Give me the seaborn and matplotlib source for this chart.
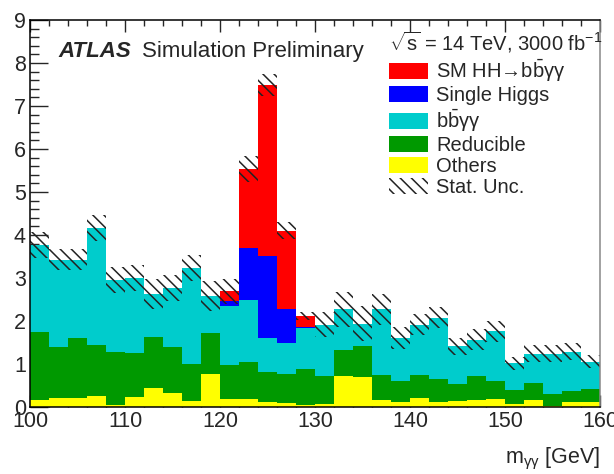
import numpy as np
import pandas as pd
import matplotlib
matplotlib.use('Agg')
import matplotlib.pyplot as plt
import seaborn as sns
from matplotlib.patches import Patch
from matplotlib.ticker import MultipleLocator

# bin edges of m_yy (GeV), 2 GeV bins
edges = np.arange(100, 162, 2)
centers = edges[:-1] + 1

# per-process yields per bin
others = [0.17, 0.22, 0.22, 0.25, 0.06, 0.24, 0.45, 0.33, 0.14, 0.78,
          0.18, 0.20, 0.11, 0.09, 0.06, 0.08, 0.72, 0.71, 0.17, 0.12,
          0.21, 0.11, 0.14, 0.16, 0.20, 0.08, 0.17, 0.02, 0.11, 0.11]
reducible = [1.57, 1.18, 1.38, 1.20, 1.23, 1.01, 1.19, 1.07, 0.87, 0.95,
             0.80, 0.86, 0.70, 0.69, 0.82, 0.64, 0.61, 0.70, 0.58, 0.48,
             0.54, 0.54, 0.39, 0.57, 0.40, 0.33, 0.39, 0.28, 0.27, 0.31]
bbyy = [2.02, 2.03, 1.83, 2.72, 1.67, 1.75, 0.99, 1.37, 2.23, 0.86,
        1.36, 1.43, 0.80, 0.71, 0.95, 1.20, 0.94, 0.53, 1.52, 1.01,
        1.17, 1.43, 0.88, 0.84, 1.16, 0.61, 0.68, 0.94, 0.91, 0.64]
single_higgs = [0, 0, 0, 0, 0, 0, 0, 0, 0, 0,
                0.13, 1.22, 1.90, 0.78, 0.03, 0, 0, 0, 0, 0,
                0, 0, 0, 0, 0, 0, 0, 0, 0, 0]
hh = [0, 0, 0, 0, 0, 0, 0, 0, 0, 0,
      0.22, 1.82, 3.98, 1.83, 0.26, 0, 0, 0, 0, 0,
      0, 0, 0, 0, 0, 0, 0, 0, 0, 0]
stat_unc = [0.30, 0.25, 0.25, 0.30, 0.30, 0.30, 0.35, 0.30, 0.30, 0.35,
            0.30, 0.30, 0.25, 0.20, 0.10, 0.30, 0.40, 0.40, 0.35, 0.25,
            0.25, 0.25, 0.20, 0.25, 0.25, 0.15, 0.20, 0.20, 0.20, 0.15]

labels = [r'SM HH→b$\bar{b}$γγ', 'Single Higgs',
          r'b$\bar{b}$γγ', 'Reducible', 'Others']
colors = ['#ff0000', '#0000ff', '#00cccc', '#009900', '#ffff00']

rows = []
for name, vals in zip(labels, [hh, single_higgs, bbyy, reducible, others]):
    for c, v in zip(centers, vals):
        rows.append((c, v, name))
df = pd.DataFrame(rows, columns=['mass', 'weight', 'process'])

sns.set_style('ticks')
plt.rcParams['font.family'] = ['Liberation Sans', 'DejaVu Sans']
plt.rcParams['mathtext.fontset'] = 'custom'
plt.rcParams['mathtext.rm'] = 'Liberation Sans'
plt.rcParams['mathtext.it'] = 'Liberation Sans:italic'
plt.rcParams['mathtext.bf'] = 'Liberation Sans:bold'
plt.rcParams['mathtext.default'] = 'rm'
plt.rcParams['hatch.color'] = 'black'
plt.rcParams['hatch.linewidth'] = 1.1

fig = plt.figure(figsize=(6.14, 4.74), dpi=100)
ax = fig.add_axes([0.049, 0.141, 0.928, 0.817])

sns.histplot(data=df, x='mass', weights='weight', hue='process',
             hue_order=labels, palette=colors, multiple='stack',
             binwidth=2, binrange=(100, 160), element='step', fill=True,
             alpha=1, linewidth=0, legend=False, ax=ax)

# statistical uncertainty band
total = np.sum([hh, single_higgs, bbyy, reducible, others], axis=0)
unc = np.array(stat_unc)
ax.bar(edges[:-1], 2 * unc, bottom=total - unc, width=2, align='edge',
       fill=False, hatch='\\\\\\', edgecolor='#222222', linewidth=0)

ax.set_xlim(100, 160)
ax.set_ylim(0, 9)
ax.xaxis.set_major_locator(MultipleLocator(10))
ax.xaxis.set_minor_locator(MultipleLocator(2))
ax.yaxis.set_major_locator(MultipleLocator(1))
ax.yaxis.set_minor_locator(MultipleLocator(0.2))
ax.tick_params(axis='x', which='major', direction='in', length=8.5, width=1,
               top=True, labelsize=15.5, pad=3)
ax.tick_params(axis='x', which='minor', direction='in', length=4.3, width=1, top=True)
ax.tick_params(axis='y', which='major', direction='in', length=13, width=1,
               labelsize=15.5, pad=3)
ax.tick_params(axis='y', which='minor', direction='in', length=6.5, width=1)
for s in ['left', 'bottom', 'top']:
    ax.spines[s].set_linewidth(1.1)
    ax.spines[s].set_color('black')
ax.spines['right'].set_color('#888888')
ax.spines['right'].set_linewidth(1.1)
ax.spines['right'].set_visible(True)
ax.spines['top'].set_visible(True)

ax.set_ylabel('')
ax.set_xlabel(r'm$_{\gamma\gamma}$ [GeV]', fontsize=15.5, loc='right')
ax.xaxis.set_label_coords(1.0, -0.1)
ax.xaxis.label.set_va('top')

ax.text(0.049, 0.904, 'ATLAS', transform=ax.transAxes, fontsize=16,
        fontweight='bold', fontstyle='italic', va='baseline')
ax.text(0.196, 0.904, 'Simulation Preliminary', transform=ax.transAxes,
        fontsize=16, va='baseline')

handles = [Patch(facecolor=c, edgecolor='none') for c in colors]
handles.append(Patch(facecolor='none', edgecolor='#222222', hatch='\\\\\\', linewidth=0))
leg = ax.legend(handles, labels + ['Stat. Unc.'], loc='upper left',
                bbox_to_anchor=(0.63, 0.975), frameon=False, fontsize=14.5,
                title=r'$\sqrt{s}$ = 14 TeV, 3000 fb$^{-1}$', title_fontsize=14.5,
                alignment='left', handlelength=1.95, handleheight=0.85,
                handletextpad=0.4, labelspacing=0.1, borderpad=0, borderaxespad=0)

fig.savefig('out.png', dpi=100)
